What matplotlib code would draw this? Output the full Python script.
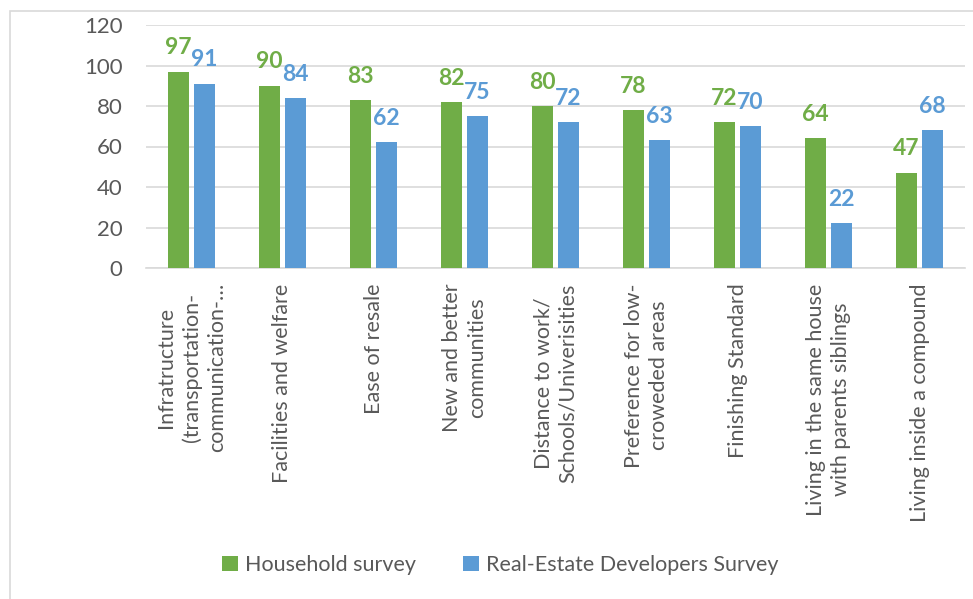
import matplotlib
matplotlib.use("Agg")
import matplotlib.pyplot as plt
from matplotlib.patches import Rectangle
import numpy as np

categories = [
    "Infratructure\n(transportation-\ncommunication-\u2026",
    "Facilities and welfare",
    "Ease of resale",
    "New and better\ncommunities",
    "Distance to work/\nSchools/Univerisities",
    "Preference for low-\ncroweded areas",
    "Finishing Standard",
    "Living in the same house\nwith parents siblings",
    "Living inside a compound",
]
household = [97, 90, 83, 82, 80, 78, 72, 64, 47]
developers = [91, 84, 62, 75, 72, 63, 70, 22, 68]
series_names = ["Household survey", "Real-Estate Developers Survey"]

GREEN = "#70AD47"
BLUE = "#5B9BD5"
GREY = "#595959"
LINE = "#D9D9D9"

plt.rcParams["font.family"] = ["Lato", "DejaVu Sans"]

fig = plt.figure(figsize=(9.73, 5.99), dpi=100)
# outer chart border (clipped at right/bottom like the source)
fig.patches.append(Rectangle((10 / 973, -0.05), 1.0, (599 - 11) / 599 + 0.05,
                             transform=fig.transFigure, fill=False,
                             edgecolor=LINE, linewidth=1.2))

ax = fig.add_axes([146 / 973, (599 - 268) / 599, (965 - 146) / 973, 243 / 599])

x = np.arange(len(categories))
w = 0.23
gap = 0.055
b1 = ax.bar(x - (w + gap) / 2, household, width=w, color=GREEN, label=series_names[0], zorder=3)
b2 = ax.bar(x + (w + gap) / 2, developers, width=w, color=BLUE, label=series_names[1], zorder=3)

for bars, col in ((b1, GREEN), (b2, BLUE)):
    for r in bars:
        ax.annotate(f"{r.get_height():.0f}", (r.get_x() + r.get_width() / 2, r.get_height()),
                    xytext=(0, 12.5), textcoords="offset points", ha="center", va="baseline",
                    fontsize=16.5, fontweight="bold", color=col)

ax.set_xlim(-0.5, len(categories) - 0.5)
ax.set_ylim(0, 120)
ax.set_yticks(range(0, 121, 20))
ax.yaxis.grid(True, color=LINE, linewidth=1.2, zorder=0)
ax.set_axisbelow(True)
for s in ("top", "right", "left"):
    ax.spines[s].set_visible(False)
ax.spines["bottom"].set_color(LINE)
ax.spines["bottom"].set_linewidth(1.2)

ax.set_xticks(x)
ax.set_xticklabels(categories, rotation=90, ha="center", va="top",
                   multialignment="center", fontsize=15.5, color=GREY, linespacing=1.3)
ax.tick_params(axis="x", length=0, pad=11)
ax.tick_params(axis="y", length=0, pad=17, labelsize=16, labelcolor=GREY)

leg = fig.legend(handles=[b1, b2], labels=series_names, loc="center",
                 bbox_to_anchor=(500 / 973, (599 - 565) / 599), ncol=2, frameon=False,
                 fontsize=15.5, labelcolor=GREY, handlelength=0.75, handleheight=0.75,
                 handletextpad=0.3, columnspacing=2.2)

fig.savefig("out.png", dpi=100)
